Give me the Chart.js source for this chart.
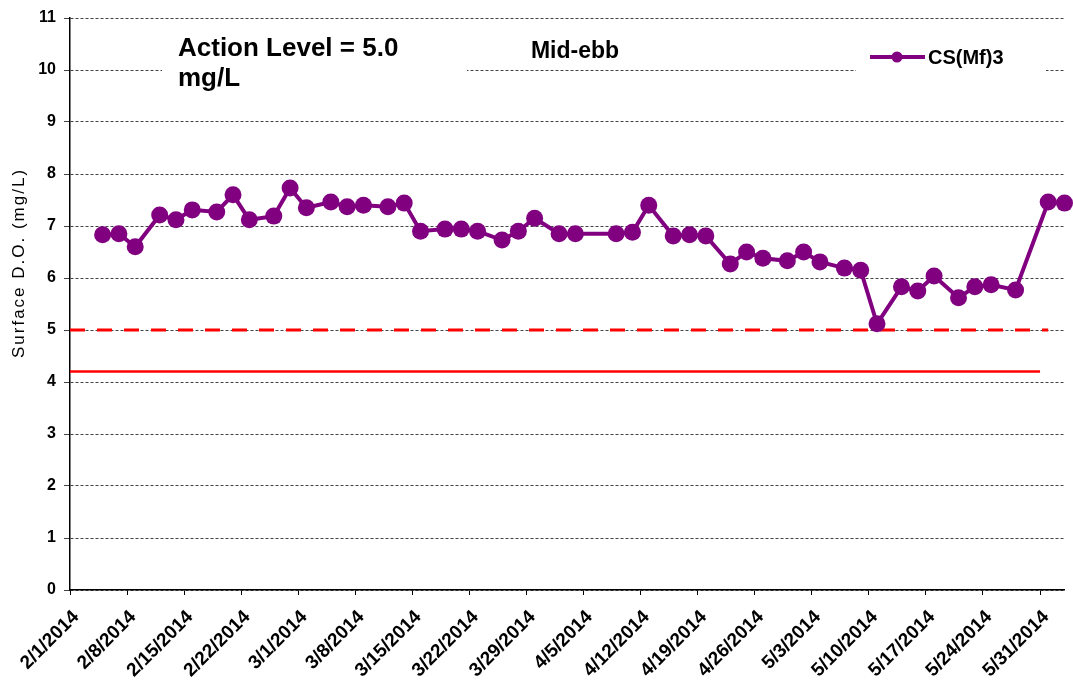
<!DOCTYPE html>
<html>
<head>
<meta charset="utf-8">
<script src="https://cdn.jsdelivr.net/npm/chart.js"></script>
<style>
  html, body { margin: 0; padding: 0; background: #fff; }
  #wrap { width: 1073px; height: 686px; }
</style>
</head>
<body>
<div id="wrap"><canvas id="myChart" width="1073" height="686"></canvas></div>
<script>
// sampling dates and surface D.O. readings (mg/L)
var sampleDates = ['2/5/2014', '2/7/2014', '2/9/2014', '2/12/2014', '2/14/2014', '2/16/2014',
    '2/19/2014', '2/21/2014', '2/23/2014', '2/26/2014', '2/28/2014', '3/2/2014', '3/5/2014',
    '3/7/2014', '3/9/2014', '3/12/2014', '3/14/2014', '3/16/2014', '3/19/2014', '3/21/2014',
    '3/23/2014', '3/26/2014', '3/28/2014', '3/30/2014', '4/2/2014', '4/4/2014', '4/9/2014',
    '4/11/2014', '4/13/2014', '4/16/2014', '4/18/2014', '4/20/2014', '4/23/2014', '4/25/2014',
    '4/27/2014', '4/30/2014', '5/2/2014', '5/4/2014', '5/7/2014', '5/9/2014', '5/11/2014',
    '5/14/2014', '5/16/2014', '5/18/2014', '5/21/2014', '5/23/2014', '5/25/2014', '5/28/2014',
    '6/1/2014', '6/3/2014'];
var doValues = [6.83, 6.85, 6.6, 7.21, 7.12, 7.31, 7.27, 7.6, 7.12, 7.19, 7.73, 7.35, 7.46,
    7.37, 7.4, 7.37, 7.44, 6.9, 6.94, 6.94, 6.9, 6.73, 6.9, 7.15, 6.85, 6.85, 6.85, 6.88,
    7.4, 6.81, 6.83, 6.81, 6.27, 6.5, 6.38, 6.33, 6.5, 6.31, 6.19, 6.15, 5.12, 5.83, 5.75,
    6.04, 5.62, 5.83, 5.87, 5.77, 7.46, 7.44];

var actionLevel = 5.0;
var limitLevel = 4.2;
var actionLineDates = ['2/1/2014', '6/1/2014'];
var limitLineDates = ['2/1/2014', '5/31/2014'];
var axisStart = '2/1/2014';
var axisEnd = '6/3/2014';
var yTicks = [0, 1, 2, 3, 4, 5, 6, 7, 8, 9, 10, 11];

var font = 'Arial, "Liberation Sans", sans-serif';

function parseDate(s) {
    var p = s.split('/');
    return new Date(+p[2], +p[0] - 1, +p[1]);
}
var day0 = parseDate(axisStart);
function dayNum(s) {
    return Math.round((parseDate(s) - day0) / 86400000);
}
function dayLabel(n) {
    var d = new Date(day0.getFullYear(), day0.getMonth(), day0.getDate() + n);
    return (d.getMonth() + 1) + '/' + d.getDate() + '/' + d.getFullYear();
}

var doPoints = sampleDates.map(function(s, i) { return { x: dayNum(s), y: doValues[i] }; });
var actionPoints = actionLineDates.map(function(s) { return { x: dayNum(s), y: actionLevel }; });
var limitPoints = limitLineDates.map(function(s) { return { x: dayNum(s), y: limitLevel }; });

// white text boxes, legend and y title drawn over the chart
var overlay = {
    id: 'overlay',
    afterDatasetsDraw: function(chart) {
        var c = chart.ctx;
        c.save();
        c.fillStyle = '#fff';
        c.fillRect(162, 30, 305, 66);
        c.fillRect(856, 42, 190, 40);

        c.fillStyle = '#000';
        c.textBaseline = 'middle';
        c.textAlign = 'left';
        c.font = 'bold 26px ' + font;
        c.fillText('Action Level = 5.0', 178, 49);
        c.fillText('mg/L', 178, 79);
        c.font = 'bold 23px ' + font;
        c.textAlign = 'center';
        c.fillText('Mid-ebb', 575, 52);

        c.strokeStyle = '#800080';
        c.lineWidth = 4;
        c.beginPath();
        c.moveTo(870, 57);
        c.lineTo(925, 57);
        c.stroke();
        c.fillStyle = '#800080';
        c.beginPath();
        c.arc(897, 57, 5.5, 0, Math.PI * 2);
        c.fill();
        c.fillStyle = '#000';
        c.textAlign = 'left';
        c.font = 'bold 20px ' + font;
        c.fillText('CS(Mf)3', 928, 58);

        c.translate(19, 263);
        c.rotate(-Math.PI / 2);
        c.textAlign = 'center';
        c.font = '17px ' + font;
        c.letterSpacing = '2px';
        c.fillText('Surface D.O. (mg/L)', 0, 0);
        c.restore();
    }
};

var ctx = document.getElementById('myChart').getContext('2d');
new Chart(ctx, {
    type: 'line',
    data: {
        datasets: [{
            label: 'CS(Mf)3',
            data: doPoints,
            borderColor: '#800080',
            backgroundColor: '#800080',
            borderWidth: 4,
            pointRadius: 8.5,
            pointHoverRadius: 8.5,
            pointBorderWidth: 0,
            clip: false,
            order: 0
        }, {
            label: 'Action',
            data: actionPoints,
            borderColor: '#ff0000',
            borderWidth: 3,
            borderDash: [15, 12],
            pointRadius: 0,
            order: 1
        }, {
            label: 'Limit',
            data: limitPoints,
            borderColor: '#ff0000',
            borderWidth: 2.5,
            pointRadius: 0,
            order: 1
        }]
    },
    options: {
        responsive: false,
        animation: false,
        layout: { padding: { top: 18, right: 8, left: 0, bottom: 0 } },
        plugins: {
            legend: { display: false },
            tooltip: { enabled: false }
        },
        scales: {
            x: {
                type: 'linear',
                min: dayNum(axisStart),
                max: dayNum(axisEnd),
                afterBuildTicks: function(axis) {
                    var t = [];
                    for (var d = 0; d <= axis.max; d += 7) t.push({ value: d });
                    axis.ticks = t;
                },
                afterFit: function(axis) { axis.height = 96; },
                border: { display: true, color: '#000', width: 1.5 },
                grid: { drawOnChartArea: false, drawTicks: true, tickLength: 5, color: '#000' },
                ticks: {
                    autoSkip: false,
                    minRotation: 45,
                    maxRotation: 45,
                    padding: 11,
                    labelOffset: 6,
                    color: '#000',
                    font: { family: font, size: 19, weight: 'bold' },
                    callback: function(v) { return dayLabel(v); }
                }
            },
            y: {
                min: 0,
                max: 11,
                afterBuildTicks: function(axis) {
                    axis.ticks = yTicks.map(function(v) { return { value: v }; });
                },
                afterFit: function(axis) { axis.width = 70; },
                border: { display: true, color: '#000', width: 1.5, dash: [3, 2] },
                grid: {
                    color: '#444',
                    lineWidth: 1,
                    tickLength: 6,
                    tickBorderDash: []
                },
                ticks: {
                    color: '#000',
                    padding: 8,
                    font: { family: font, size: 16, weight: 'bold' }
                }
            }
        }
    },
    plugins: [overlay]
});
</script>
</body>
</html>
